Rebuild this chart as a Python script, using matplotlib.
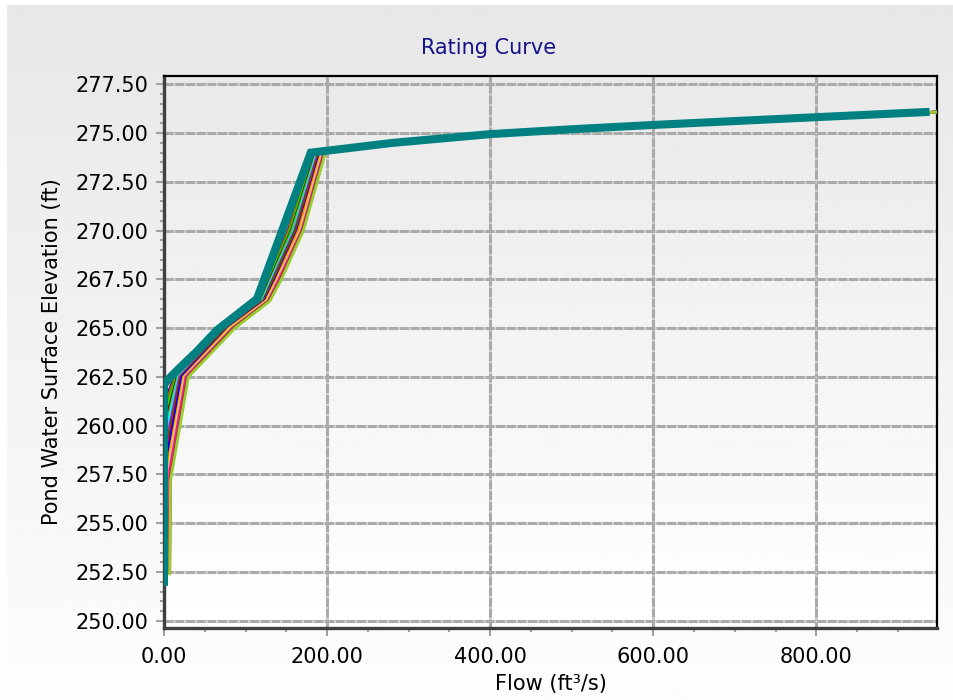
import numpy as np
import matplotlib.pyplot as plt
from matplotlib.ticker import MultipleLocator, FormatStrFormatter

# Shared upper branch of the rating curves (flow in ft3/s, elevation in ft)
upperFlow = [280, 400, 500, 600, 800, 955]
upperElev = [274.5, 274.95, 275.2, 275.42, 275.82, 276.09]

# Scenario curves below the crest: elevations of each point and the matching flows
seriesColors = ["#800080", "#808000", "#00ff00", "#800000", "#32cd32", "#00ffff",
                "#ff00ff", "#008000", "#ff0000", "#0000ff", "#ff8c00", "#ffd700",
                "#c0c0c0", "#ff1493", "#8b4513", "#9acd32"]
startElev = [254.2, 254.0, 253.9, 253.7, 253.6, 253.4, 253.3, 253.1,
             253.0, 252.9, 252.8, 252.7, 252.6, 252.5, 252.5, 252.4]
kneeElev = [261.6, 261.3, 261.0, 260.7, 260.4, 260.1, 259.8, 259.5,
            259.2, 258.9, 258.6, 258.3, 258.0, 257.7, 257.4, 257.2]
fixedElev = [262.5, 265.0, 266.4, 267.5, 270.0, 274.0]
lowerFlow = [
    [2, 4, 13, 69, 117, 127, 152, 183],
    [2, 4, 14, 70, 118, 128, 153, 184],
    [2, 5, 15, 71, 118, 129, 155, 185],
    [3, 5, 16, 72, 119, 130, 156, 186],
    [3, 5, 17, 73, 120, 131, 157, 187],
    [3, 5, 18, 74, 121, 132, 159, 188],
    [4, 6, 19, 75, 122, 133, 160, 189],
    [4, 6, 20, 76, 122, 134, 161, 190],
    [4, 6, 21, 78, 123, 136, 163, 191],
    [5, 6, 22, 79, 124, 137, 164, 192],
    [5, 7, 24, 80, 125, 138, 165, 193],
    [5, 7, 25, 81, 126, 139, 167, 194],
    [6, 7, 26, 83, 127, 140, 168, 195],
    [6, 7, 27, 84, 128, 141, 169, 196],
    [7, 8, 29, 85, 129, 143, 170, 197],
    [7, 8, 30, 87, 130, 144, 171, 198],
]

# Highlighted curve drawn on top
mainFlow = [0, 0, 8, 20, 40, 65, 114, 180, 280, 400, 500, 600, 800, 934]
mainElev = [252.0, 262.1, 262.5, 263.0, 263.8, 264.9, 266.5, 274.0,
            274.5, 274.95, 275.2, 275.42, 275.82, 276.08]

W, H = 954, 700
fig = plt.figure(figsize=(W / 100, H / 100), dpi=100)
fig.patch.set_facecolor("white")

# Gray gradient panel behind everything
bg = fig.add_axes([7 / W, 0, 1 - 7 / W, 1 - 5 / H])
bg.imshow(np.linspace(231, 253, 256).reshape(-1, 1), cmap="gray", vmin=0, vmax=255,
          aspect="auto", extent=[0, 1, 0, 1])
bg.set_axis_off()

ax = fig.add_axes([164 / W, 1 - 628 / H, (937 - 164) / W, (628 - 76) / H])
ax.imshow(np.linspace(233, 255, 256).reshape(-1, 1), cmap="gray", vmin=0, vmax=255,
          aspect="auto", extent=[0, 1, 0, 1], transform=ax.transAxes, zorder=0)

for color, s, k, qs in zip(seriesColors, startElev, kneeElev, lowerFlow):
    es = [s, k] + fixedElev
    ax.plot(qs + upperFlow, es + upperElev, color=color, lw=2.0, zorder=3,
            solid_joinstyle="round")

ax.plot(mainFlow, mainElev, color="#008080", lw=5.8, zorder=4, solid_joinstyle="miter")

ax.set_xlim(0, 948)
ax.set_ylim(249.63, 277.93)

ax.xaxis.set_major_locator(MultipleLocator(200))
ax.xaxis.set_minor_locator(MultipleLocator(50))
ax.yaxis.set_major_locator(MultipleLocator(2.5))
ax.yaxis.set_minor_locator(MultipleLocator(0.5))
ax.xaxis.set_major_formatter(FormatStrFormatter("%.2f"))
ax.yaxis.set_major_formatter(FormatStrFormatter("%.2f"))

ax.grid(True, which="major", color="#aaaaaa", lw=2.2, dashes=(3, 0.5),
        gapcolor="#d4d4d4", zorder=1)
ax.set_axisbelow(True)

ax.tick_params(which="major", direction="out", length=6, width=1.5, color="#a0a0a0",
               labelsize=15, pad=5)
ax.tick_params(which="minor", direction="out", length=3, width=1.5, color="#a0a0a0")
ax.tick_params(axis="x", which="major", pad=8)

for side in ["left", "bottom"]:
    ax.spines[side].set_color("#404040")
    ax.spines[side].set_linewidth(2.4)
for side in ["top", "right"]:
    ax.spines[side].set_color("black")
    ax.spines[side].set_linewidth(1.6)

ax.set_xlabel("Flow (ft³/s)", fontsize=15, labelpad=5)
ax.set_ylabel("Pond Water Surface Elevation (ft)", fontsize=15, labelpad=10)
fig.text(489 / W, 1 - 48 / H, "Rating Curve", color="#141488", fontsize=15,
         ha="center", va="center")

fig.savefig("out.png", dpi=100)
